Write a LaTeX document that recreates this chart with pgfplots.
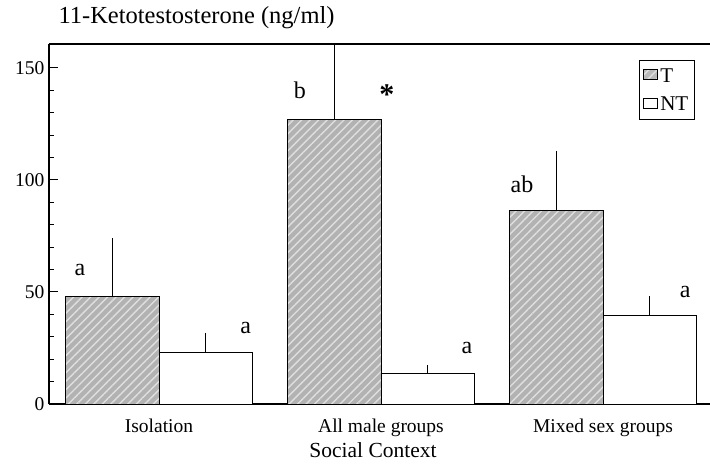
\documentclass[border=0pt]{standalone}
\usepackage{pgfplots}
\pgfplotsset{compat=1.18}
\usetikzlibrary{patterns.meta}
\usepackage{fontspec}
\setmainfont{Liberation Serif}
\begin{document}
\begin{tikzpicture}
\useasboundingbox (-49pt,-60pt) rectangle (661pt,404pt);
\begin{axis}[
  at={(0,0)}, anchor=south west,
  scale only axis, width=661pt, height=360pt,
  xmin=-0.4955, xmax=2.482, ymin=0, ymax=160.7,
  axis x line*=bottom, axis y line*=left,
  axis line style={-, line width=1.4pt},
  ytick={0,50,100,150}, minor y tick num=4,
  tick align=inside, major tick length=9pt, minor tick length=5pt,
  tick style={line width=1pt, black},
  xtick={0,1,2},
  xticklabels={Isolation, All male groups, Mixed sex groups},
  x tick style={draw=none},
  /pgf/number format/assume math mode=true,
  tick label style={font=\fontsize{19.5}{20}\selectfont},
  yticklabel style={xshift=-1pt},
  xticklabel style={yshift=-2pt},
  ybar, bar width=0.42,
  legend style={at={(rel axis cs:0.977,0.956)}, anchor=north east,
    font=\fontsize{21}{22}\selectfont, draw=black, line width=1pt,
    inner xsep=4pt, inner ysep=6pt, row sep=9pt, legend cell align=left},
  error bars/y dir=plus, error bars/y explicit,
  error bars/error mark=none,
  error bars/error bar style={line width=1.2pt, black},
]
\addplot[bar shift=-0.21, draw=black, line width=1pt, fill=gray!60,
  postaction={pattern={Lines[angle=45,distance=6pt,line width=1.4pt]}, pattern color=gray!25},
  legend image code/.code={\draw[draw=black, line width=1pt, fill=gray!55] (0pt,-4pt) rectangle (14pt,6pt);}]
  coordinates {(0,47.8) +- (0,26.2) (1,127) +- (0,40) (2,86.2) +- (0,26.8)};
\addlegendentry{T}
\addplot[bar shift=0.21, draw=black, line width=1pt, fill=white,
  legend image code/.code={\draw[draw=black, line width=1pt, fill=white] (0pt,-4pt) rectangle (14pt,6pt);}]
  coordinates {(0,23.2) +- (0,8.5) (1,13.8) +- (0,3.6) (2,39.3) +- (0,8.7)};
\addlegendentry{NT}
\node[font=\fontsize{24}{24}\selectfont] at (axis cs:-0.356,60) {a};
\node[font=\fontsize{24}{24}\selectfont] at (axis cs:0.39,34) {a};
\node[font=\fontsize{24}{24}\selectfont] at (axis cs:0.635,140) {b};
\node[font=\fontsize{30}{30}\selectfont\bfseries] at (axis cs:1.027,138) {*};
\node[font=\fontsize{24}{24}\selectfont] at (axis cs:1.387,25) {a};
\node[font=\fontsize{24}{24}\selectfont] at (axis cs:1.635,98) {ab};
\node[font=\fontsize{24}{24}\selectfont] at (axis cs:2.37,50) {a};
\end{axis}
\draw[line width=1.4pt] (0pt,360pt) -- (661pt,360pt);
\node[anchor=west, font=\fontsize{24.5}{25}\selectfont] at (6pt,386pt) {11-Ketotestosterone (ng/ml)};
\node[font=\fontsize{21.5}{22}\selectfont] at (324pt,-46pt) {Social Context};
\end{tikzpicture}
\end{document}
